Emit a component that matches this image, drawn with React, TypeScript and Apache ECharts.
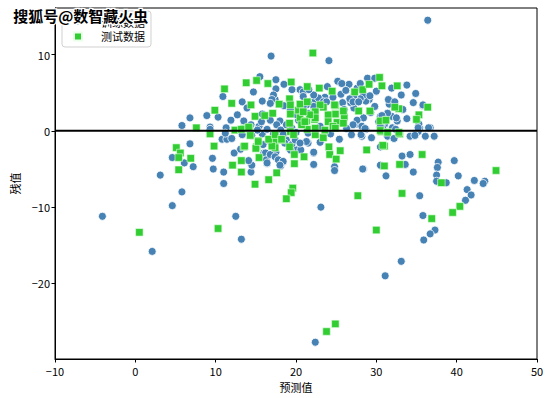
import React, { useEffect, useRef } from "react";
import * as echarts from "echarts";

const xTicks = [-10, 0, 10, 20, 30, 40, 50];
const yTicks = [-20, -10, 0, 10];

const trainData: number[][] = [
  [36.4, 14.5], [16.9, 9.8], [24.1, 9.2],
  [17.5, 6.7], [18.5, 6.1], [15.5, 7.1], [14.7, 5.1], [10.9, 4.5], [13.3, 3.8], [15.8, 3.9], [13.9, 3.0], [17.5, 5.5], [17.4, 4.1],
  [8.9, 2.0], [10.3, 1.8], [6.8, 1.7], [5.8, 0.7], [9.3, 0.5], [11.9, 1.4], [12.7, 2.1], [15.8, 2.2], [13.5, 1.3], [14.4, 0.8], [15.4, 0.6], [11.3, 0.4], [20.0, 2.2], [20.3, 1.4], [20.7, 5.2],
  [6.8, -1.7], [10.8, -1.1], [11.4, -1.1], [12.0, -1.0], [13.3, -0.5], [14.5, -0.6], [15.8, -0.4],
  [4.6, -3.5], [6.1, -4.2], [7.2, -4.7], [3.1, -5.8], [5.8, -8.0], [4.6, -9.8], [-4.1, -11.2], [2.1, -15.8],
  [9.6, -3.6], [9.7, -5.0], [11.0, -5.4], [11.0, -6.9], [12.3, -2.9], [14.4, -5.4], [14.5, -4.5], [14.1, -3.9], [13.1, -2.4],
  [12.5, -11.2], [13.2, -14.2], [16.3, -3.7], [16.4, -4.3], [16.0, -2.9], [17.0, -3.1], [17.5, -2.8], [18.4, -4.1], [18.1, -4.6],
  [22.2, -2.9], [22.2, -4.4], [24.8, -4.7], [24.8, -5.2], [30.5, -2.1], [28.4, -5.0], [30.5, -4.5], [31.2, -5.9], [33.6, -4.4], [33.2, -3.3], [34.2, -3.1], [34.6, -5.4], [35.4, -8.5], [23.1, -10.0], [33.1, -17.1], [35.8, -11.1], [37.3, -13.0], [36.7, -13.5], [35.9, -14.3],
  [37.7, -4.1], [37.6, -4.8], [37.5, -5.8], [37.5, -6.6], [38.7, -6.8], [39.7, -3.9], [40.2, -5.9], [42.2, -6.5], [43.5, -6.6], [43.3, -6.9], [41.3, -7.7], [41.8, -8.4], [41.1, -9.1],
  [31.1, -19.0], [22.4, -27.7],
  [25.2, 6.5], [26.6, 6.1], [25.7, 6.2], [28.9, 6.9], [29.8, 6.9], [25.6, 4.8], [33.1, 4.7], [34.9, 4.9], [34.6, 3.7], [35.8, 3.3], [33.3, 2.8], [31.8, 3.9], [31.6, 3.5], [33.8, 1.6], [32.6, 1.3], [31.4, 2.3], [30.5, 1.9], [35.4, 0.4], [36.7, 0.4], [37.2, -0.7], [36.1, -0.7], [35.3, 0.9], [34.9, -0.3], [29.4, -0.9], [28.2, -0.7], [28.7, 0.2], [23.6, 4.4], [21.7, 3.8],
  [25.4, -1.1], [22.2, -2.8], [21.5, -1.6], [23.0, -1.5], [28.1, -0.5], [31.4, -0.7], [32.2, -1.0], [34.2, -0.7], [28.3, -5.0],
  [27.6, 0.9], [28.4, 1.7], [29.3, 2.4], [29.1, 4.1], [28.7, 3.9], [27.6, 3.9], [27.2, 3.0], [26.8, 3.7], [25.8, 3.7], [26.0, 2.8],
  [31.0, 0.8], [32.0, 0.4], [32.4, 0.2], [30.8, 0.3], [35.2, -0.1], [34.8, -0.6],
  [20.5, 5.4], [20.9, 5.1], [28.4, 4.7], [29.2, 4.6], [28.0, 4.2], [27.6, 5.6], [28.0, 6.2], [27.2, 4.6], [26.7, 4.2], [27.1, 3.8], [27.8, 3.8], [31.9, 5.6], [31.5, 4.1], [32.3, 3.8], [35.8, 3.4], [31.9, 1.9], [31.4, 2.3], [30.7, 2.0], [30.3, 1.2], [31.1, 1.4], [30.5, 0.6], [32.5, 1.7], [35.2, 0.4], [36.5, 0.4], [22.4, 4.1], [22.8, 4.3], [23.4, 3.8], [22.2, 3.2], [23.8, 3.8], [27.6, 1.4], [28.2, 0.6], [28.6, 0.3], [27.1, 0.8], [20.9, 4.5], [21.3, 3.4], [22.2, 4.7],
  [19.5, 5.4], [21.6, 5.4], [17.2, 4.7], [17.0, 4.1], [16.8, 3.6], [18.5, 3.3], [19.3, 2.8], [20.5, 2.3], [15.7, 1.2], [16.8, 1.4], [18.0, 1.3], [17.6, 0.8], [18.8, 0.8], [20.9, 3.2], [20.1, 2.1], [21.5, 2.3], [16.4, 0.2], [18.1, 0.1], [19.5, 0.35],
  [16.2, -2.9], [16.3, -3.8], [16.8, -3.1], [17.4, -3.4], [17.8, -3.8], [18.4, -4.0], [18.0, -4.5], [16.4, -4.2], [15.5, -1.6], [16.8, -1.4], [18.8, -1.2], [19.5, -1.8], [20.1, -2.5], [20.6, -2.5], [19.3, -2.5], [19.9, -1.2], [21.3, -1.4], [21.5, -0.3],
  [9.3, 0.2], [11.2, -0.3], [15.2, 0.1], [17.2, -0.4], [18.4, -0.5], [20.0, -0.2],
  [15.9, -1.8], [17.2, -1.8], [18.6, -1.6], [20.5, -1.6],
  [23.0, 0.6], [24.3, -0.4], [26.3, 0.3], [26.9, -0.5], [29.8, 3.2], [30.0, 5.2], [33.8, 6.0], [23.9, 5.8], [24.6, 4.4], [26.2, 5.3]
];

const testData: number[][] = [
  [22.1, 10.2], [13.8, 6.3], [15.1, 6.6], [16.5, 6.2], [19.4, 6.4], [11.1, 5.5], [12.0, 3.6], [14.4, 3.4], [17.9, 3.5], [19.2, 4.2], [19.3, 3.4], [9.9, 2.7], [7.6, 0.4], [14.9, 1.9], [16.1, 2.0], [17.1, 2.3], [12.4, 0.1], [13.5, 0.3], [14.2, 0.4], [19.3, 2.2], [19.2, 1.0], [20.3, 2.7], [20.5, 1.7], [20.5, 3.5],
  [9.3, -0.4], [5.1, -2.2], [9.8, -2.0], [13.5, -2.1], [15.1, -2.1], [5.6, -2.9], [6.9, -3.6], [5.4, -5.1], [5.4, -3.5], [0.5, -13.3], [12.1, -4.5], [13.2, -3.9], [13.2, -5.4], [14.9, -7.0], [16.6, -6.4], [17.6, -5.5], [19.8, -4.3], [19.8, -3.1], [19.6, -7.5], [19.4, -8.1], [18.8, -8.9], [10.3, -12.8], [15.4, -3.5], [13.6, -2.0], [14.3, -0.6], [15.3, -1.3], [15.0, -2.3], [17.4, -1.3], [17.4, -2.2], [18.2, -1.2], [21.0, -3.4], [17.0, -2.0],
  [24.1, -2.1], [24.2, -3.1], [25.5, -2.6], [25.0, -3.7], [28.8, -2.5], [31.0, -2.0], [31.0, -4.6], [32.9, -4.4], [35.7, -3.1], [27.7, -8.5], [33.2, -8.2], [30.0, -13.0], [36.9, -11.5], [38.1, -6.8], [40.4, -9.9], [39.5, -10.7], [44.9, -5.2], [30.8, -1.9],
  [24.9, -25.3], [23.8, -26.3],
  [21.4, 5.8], [22.9, 5.6], [24.5, 5.2], [27.3, 5.1], [28.3, 5.4], [29.1, 6.1], [30.4, 7.0], [30.7, 5.9], [32.6, 5.9], [36.4, 3.1], [32.8, 2.9], [32.3, 3.1], [35.3, 2.1], [35.0, 1.5], [30.5, 1.3], [31.2, 1.4], [32.9, -0.4], [30.6, -0.1], [29.2, 2.6], [27.8, 2.6], [26.0, 1.8], [25.9, 2.6], [24.9, 3.3], [24.9, 2.2], [24.0, 2.1], [25.1, 1.1], [25.9, 1.0], [23.4, 3.1], [23.0, 3.4], [22.3, 2.4], [22.3, 1.5], [21.3, 1.3], [21.4, 0.2], [21.4, 3.8], [24.8, 3.4],
  [22.4, -0.5], [23.4, -0.9], [30.5, 0.05], [31.4, -0.2], [32.8, -0.2],
  [24.0, 1.2], [24.6, 0.6], [22.4, 2.5], [22.4, 1.7], [21.7, 2.1], [20.7, 0.8], [22.4, 0.35], [23.6, 0.1], [24.9, 0.35],
  [13.2, 0.2], [14.1, 0.5], [20.9, 2.5], [21.1, 1.2], [19.3, -0.1],
  [15.3, -1.4], [16.6, -1.1], [17.4, -0.5], [18.2, -1.1], [19.7, -0.5], [19.2, -2.1]
];

const zeroLine: number[][] = [[-10, 0], [50, 0]];

const FONT = '"Noto Sans CJK SC", "Noto Sans", sans-serif';

export default function App() {
  const ref = useRef<HTMLDivElement>(null);
  useEffect(() => {
    if (!ref.current) return;
    const chart = echarts.init(ref.current, undefined, { renderer: "svg" });
    chart.setOption({
      animation: false,
      backgroundColor: "#fff",
      textStyle: { fontFamily: FONT },
      grid: {
        left: 55, right: 17, top: 8, bottom: 39,
        show: true, borderColor: "#000", borderWidth: 1, backgroundColor: "transparent"
      },
      xAxis: {
        type: "value", min: -10, max: 50, interval: 10,
        name: "预测值", nameLocation: "middle", nameGap: 22,
        nameTextStyle: { fontSize: 11, color: "#000", fontFamily: FONT },
        axisLine: { show: true, onZero: false, lineStyle: { color: "#000", width: 1 } },
        axisTick: { show: true, length: 3.5, lineStyle: { color: "#000" } },
        axisLabel: { fontSize: 11, color: "#000", margin: 6, fontFamily: FONT, formatter: (v: number) => (v < 0 ? "−" + Math.abs(v) : String(v)) },
        splitLine: { show: false },
        data: xTicks
      },
      yAxis: {
        type: "value", min: -29.9, max: 16.1,
        name: "残值", nameLocation: "middle", nameGap: 31,
        nameTextStyle: { fontSize: 11, color: "#000", fontFamily: FONT },
        axisLine: { show: true, onZero: false, lineStyle: { color: "#000", width: 1 } },
        axisTick: { show: true, length: 3.5, customValues: yTicks, lineStyle: { color: "#000" } },
        axisLabel: { fontSize: 11, color: "#000", margin: 5, fontFamily: FONT, customValues: yTicks, formatter: (v: number) => (v < 0 ? "−" + Math.abs(v) : String(v)) },
        splitLine: { show: false }
      },
      legend: {
        orient: "vertical", left: 62, top: 11,
        padding: [5, 6, 5, 11], itemGap: 4, itemWidth: 8, itemHeight: 8,
        borderColor: "#d0d0d0", borderWidth: 1, borderRadius: 3,
        backgroundColor: "rgba(255,255,255,0.8)",
        textStyle: { fontSize: 11, color: "#000", fontFamily: FONT, padding: [0, 0, 0, 14] },
        data: [
          { name: "训练数据", icon: "circle" },
          { name: "测试数据", icon: "rect" }
        ]
      },
      series: [
        {
          name: "训练数据", type: "scatter", data: trainData, symbol: "circle", symbolSize: 8,
          itemStyle: { color: "#4682B4", borderColor: "#ffffff", borderWidth: 0.8, opacity: 1 }, z: 2
        },
        {
          name: "测试数据", type: "scatter", data: testData, symbol: "rect", symbolSize: 7.5,
          itemStyle: { color: "#32CD32", borderColor: "#e8ffe8", borderWidth: 0.6, opacity: 1 }, z: 3
        },
        {
          name: "zero", type: "line", data: zeroLine, symbol: "none",
          lineStyle: { color: "#000", width: 2 }, z: 4, silent: true
        }
      ],
      graphic: [
        {
          type: "text", left: 12, top: 7, z: 100,
          style: { text: "搜狐号@数智藏火虫", font: 'bold 15px "Noto Sans CJK SC"', fill: "#000", stroke: "#fff", lineWidth: 2.5 }
        }
      ]
    });
    return () => chart.dispose();
  }, []);
  return <div ref={ref} style={{ width: 554, height: 398, position: "absolute", left: 0, top: 0 }} />;
}
